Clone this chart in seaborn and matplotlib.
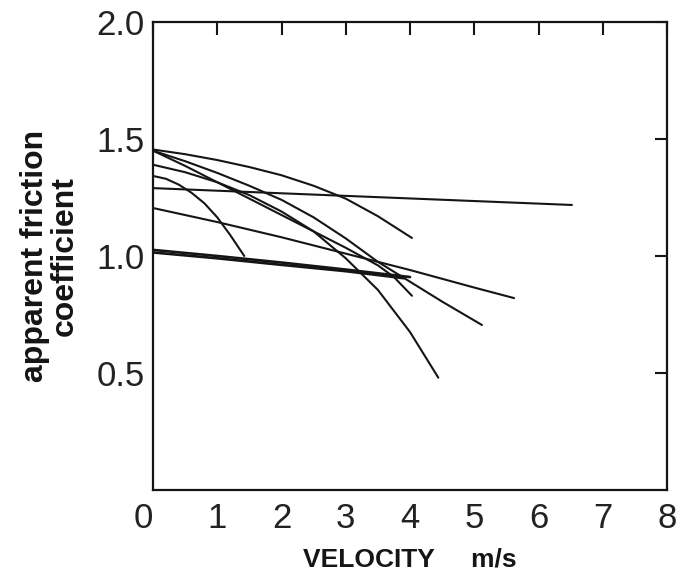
import pandas as pd
import matplotlib
matplotlib.use('Agg')
import matplotlib.pyplot as plt
import seaborn as sns

# ---- curve data (velocity m/s, friction coefficient) ----
a_x = [0.0, 6.52]
a_y = [1.29, 1.218]

b_x = [0.0, 0.5, 1.0, 1.5, 2.0, 2.5, 3.0, 3.5, 4.03]
b_y = [1.455, 1.435, 1.41, 1.38, 1.345, 1.30, 1.245, 1.17, 1.077]

c_x = [0.0, 0.5, 1.0, 1.5, 2.0, 2.5, 3.0, 3.5, 4.0, 4.44]
c_y = [1.39, 1.358, 1.315, 1.26, 1.19, 1.105, 0.99, 0.855, 0.675, 0.48]

d_x = [0.0, 0.5, 1.0, 1.5, 2.0, 2.5, 3.0, 3.5, 4.0, 4.5, 5.12]
d_y = [1.45, 1.405, 1.355, 1.30, 1.24, 1.165, 1.075, 0.975, 0.89, 0.805, 0.705]

e_x = [0.0, 0.5, 1.0, 1.5, 2.0, 2.5, 3.0, 3.5, 3.75, 4.03]
e_y = [1.45, 1.385, 1.315, 1.245, 1.175, 1.105, 1.035, 0.96, 0.91, 0.83]

f_x = [0.0, 0.2, 0.4, 0.6, 0.8, 1.0, 1.2, 1.42]
f_y = [1.342, 1.33, 1.305, 1.27, 1.225, 1.165, 1.09, 1.0]

g_x = [0.0, 1.0, 2.0, 3.0, 4.0, 5.0, 5.62]
g_y = [1.205, 1.145, 1.08, 1.01, 0.94, 0.865, 0.82]

h1_x = [0.0, 1.0, 2.0, 3.0, 4.0]
h1_y = [1.026, 1.0, 0.972, 0.942, 0.91]
h2_x = [0.0, 1.0, 2.0, 3.0, 3.9]
h2_y = [1.015, 0.99, 0.962, 0.935, 0.905]

x_ticks = [0, 1, 2, 3, 4, 5, 6, 7, 8]
y_ticks = [0.5, 1.0, 1.5, 2.0]
y_tick_labels = ['0.5', '1.0', '1.5', '2.0']

curves = {'A': (a_x, a_y), 'B': (b_x, b_y), 'C': (c_x, c_y), 'D': (d_x, d_y),
          'E': (e_x, e_y), 'F': (f_x, f_y), 'G': (g_x, g_y)}
thick = {'H1': (h1_x, h1_y), 'H2': (h2_x, h2_y)}

def to_long(d):
    rows = []
    for name, (xs, ys) in d.items():
        for x, y in zip(xs, ys):
            rows.append({'curve': name, 'v': x, 'mu': y})
    return pd.DataFrame(rows)

df = to_long(curves)
df_thick = to_long(thick)

sns.set_style('white')
plt.rcParams['font.family'] = ['Liberation Sans', 'DejaVu Sans']

fig = plt.figure(figsize=(6.78, 5.71), dpi=100)
ax = fig.add_axes([0.2257, 0.1419, 0.9838 - 0.2257, 0.9615 - 0.1419])

sns.lineplot(data=df, x='v', y='mu', units='curve', estimator=None, sort=False,
             color='#151515', linewidth=1.5, ax=ax)
sns.lineplot(data=df_thick, x='v', y='mu', units='curve', estimator=None, sort=False,
             color='#151515', linewidth=1.9, ax=ax)

ax.set_xlim(0, 8)
ax.set_ylim(0, 2.0)
ax.set_xticks(x_ticks)
ax.set_xticklabels([str(t) for t in x_ticks])
ax.set_yticks(y_ticks)
ax.set_yticklabels(y_tick_labels)
ax.tick_params(axis='both', direction='in', length=9, width=1.5, color='#151515',
               labelsize=25, labelcolor='#222222', top=True, right=True)
ax.tick_params(axis='x', pad=9)
ax.tick_params(axis='y', pad=6)
ax.get_xticklabels()[0].set_ha('right')

for s in ax.spines.values():
    s.set_linewidth(1.6)
    s.set_color('#151515')

ax.set_xlabel('VELOCITY     m/s', fontsize=19, fontweight='bold', color='#151515', labelpad=9)
ax.set_ylabel('apparent friction\ncoefficient', fontsize=23, fontweight='bold',
              color='#151515', labelpad=12, linespacing=1.0)

fig.savefig('out.png', dpi=100, facecolor='white')
